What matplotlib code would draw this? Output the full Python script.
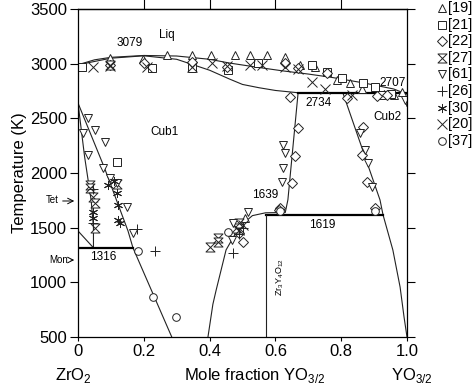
import numpy as np
import matplotlib
matplotlib.use("Agg")
import matplotlib.pyplot as plt
from matplotlib.path import Path
from matplotlib.lines import Line2D

plt.rcParams['font.family'] = ['Liberation Sans', 'DejaVu Sans']
plt.rcParams['mathtext.fontset'] = 'custom'
plt.rcParams['mathtext.rm'] = 'Liberation Sans'

# phase boundaries: x = mole fraction YO3/2, T in K
liq_x = [0.0, 0.05, 0.1, 0.2, 0.3, 0.4, 0.46, 0.55, 0.62, 0.7, 0.77, 0.87, 0.96, 1.0]
liq_t = [2990, 3035, 3058, 3075, 3070, 3040, 3006, 2965, 2935, 2905, 2875, 2823, 2768, 2720]

sol_x = [0.0, 0.1, 0.2, 0.3, 0.4, 0.46, 0.5, 0.55, 0.6, 0.669]
sol_t = [2990, 3050, 3072, 3040, 2940, 2860, 2810, 2780, 2755, 2734]

cub1_x = [0.395, 0.41, 0.42, 0.45, 0.49, 0.53, 0.57, 0.63, 0.638, 0.669]
cub1_t = [500, 800, 930, 1296, 1506, 1610, 1636, 1639, 1755, 2734]

cub2_x = [0.805, 0.918, 0.927, 0.957, 0.979, 0.991, 1.0]
cub2_t = [2734, 1753, 1619, 1296, 957, 683, 500]

tet_x = [0.0, 0.08, 0.152, 0.167, 0.285]
tet_t = [2640, 2050, 1470, 1316, 500]

tet2_x = [0.0, 0.02, 0.04, 0.047, 0.047]
tet2_t = [2640, 2150, 1750, 1500, 1316]

mon_x = [0.0, 0.047]
mon_t = [1470, 1316]

hex_x = [0.985, 1.0]
hex_t = [2734, 2610]

# invariant lines
inv_t = [1316, 1619, 2734]
inv_x0 = [0.0, 0.571, 0.669]
inv_x1 = [0.167, 0.928, 1.0]
comp_x = 0.571  # Zr3Y4O12

# experimental data
r19_x = [0.097, 0.198, 0.27, 0.347, 0.404, 0.477, 0.523, 0.574, 0.63, 0.675, 0.72, 0.787, 0.827, 0.862, 0.93, 0.96, 0.985, 0.508]
r19_t = [3050, 3040, 3080, 3080, 3080, 3080, 3080, 3080, 3060, 2988, 2970, 2850, 2823, 2770, 2720, 2715, 2740, 1588]
r21_x = [0.012, 0.225, 0.347, 0.456, 0.547, 0.711, 0.757, 0.802, 0.866, 0.903, 0.92, 0.95, 0.118]
r21_t = [2970, 2960, 2960, 2942, 3006, 2988, 2924, 2869, 2823, 2786, 2715, 2720, 2100]
r22_x = [0.097, 0.2, 0.347, 0.453, 0.63, 0.669, 0.757, 0.644, 0.818, 0.669, 0.66, 0.65, 0.614, 0.866, 0.862, 0.878, 0.903, 0.5, 0.49, 0.61, 0.91, 0.94]
r22_t = [2990, 3010, 3015, 2970, 3006, 2960, 2915, 2695, 2686, 2412, 2160, 1912, 1680, 2421, 2165, 1918, 1680, 1369, 1450, 1660, 2700, 2710]
r27_x = [0.097, 0.036, 0.036, 0.045, 0.052, 0.052, 0.118, 0.401, 0.426, 0.426, 0.48, 0.49]
r27_t = [2985, 1890, 1860, 1780, 1726, 1497, 1900, 1324, 1405, 1370, 1500, 1540]
r61_x = [0.03, 0.052, 0.015, 0.082, 0.03, 0.076, 0.097, 0.118, 0.149, 0.167, 0.623, 0.63, 0.623, 0.62, 0.857, 0.872, 0.881, 0.894, 0.468, 0.471, 0.517, 0.994]
r61_t = [2500, 2393, 2366, 2283, 2165, 2046, 1955, 1910, 1689, 1451, 2256, 2183, 2046, 1918, 2366, 2211, 2092, 1872, 1387, 1543, 1643, 2668]
r26_x = [0.045, 0.045, 0.18, 0.234, 0.471, 0.49, 0.5]
r26_t = [1850, 1540, 1490, 1287, 1268, 1440, 1500]
r30_x = [0.091, 0.118, 0.122, 0.122, 0.128, 0.045, 0.045, 0.11]
r30_t = [1890, 1817, 1707, 1570, 1543, 1588, 1640, 1930]
r20_x = [0.045, 0.097, 0.21, 0.347, 0.407, 0.453, 0.523, 0.56, 0.63, 0.669, 0.711, 0.75, 0.833, 0.49, 0.5]
r20_t = [2970, 2975, 2970, 2970, 3006, 2975, 2988, 2988, 2970, 2951, 2832, 2768, 2713, 1480, 1520]
r37_x = [0.182, 0.228, 0.298, 0.456, 0.614, 0.903]
r37_t = [1287, 866, 683, 1460, 1650, 1650]

ref_labels = ['[19]', '[21]', '[22]', '[27]', '[61]', '[26]', '[30]', '[20]', '[37]']

hourglass = Path([(-1, 1), (1, 1), (-1, -1), (1, -1), (-1, 1)],
                 [Path.MOVETO, Path.LINETO, Path.LINETO, Path.LINETO, Path.CLOSEPOLY])
markers = ['^', 's', 'D', hourglass, 'v', '+', (6, 2, 0), 'x', 'o']
sizes = [6, 5.5, 5, 6.5, 6, 6.5, 6.5, 7, 5.5]
series = [(r19_x, r19_t), (r21_x, r21_t), (r22_x, r22_t), (r27_x, r27_t), (r61_x, r61_t),
          (r26_x, r26_t), (r30_x, r30_t), (r20_x, r20_t), (r37_x, r37_t)]

fig = plt.figure(figsize=(4.74, 3.88), dpi=100)
ax = fig.add_axes([78 / 474, 1 - 337 / 388, 329 / 474, 328 / 388])

lw = 0.8
for xs, ts in [(liq_x, liq_t), (sol_x, sol_t), (cub1_x, cub1_t), (cub2_x, cub2_t),
               (tet_x, tet_t), (tet2_x, tet2_t), (mon_x, mon_t), (hex_x, hex_t)]:
    ax.plot(xs, ts, color='#222222', lw=lw)
for t, x0, x1 in zip(inv_t, inv_x0, inv_x1):
    ax.plot([x0, x1], [t, t], color='black', lw=1.6)
ax.plot([comp_x, comp_x], [500, 1619], color='#222222', lw=lw)

for (xs, ts), m, s in zip(series, markers, sizes):
    ax.plot(xs, ts, ls='none', marker=m, ms=s, mfc='white', mec='#222222', mew=0.7)

# annotations
fs = 8.5
ax.text(0.27, 3262, 'Liq', fontsize=fs, ha='center', va='center')
ax.text(0.158, 3185, '3079', fontsize=fs, ha='center', va='center')
ax.text(0.264, 2375, 'Cub1', fontsize=fs, ha='center', va='center')
ax.text(0.957, 2823, '2707', fontsize=fs, ha='center', va='center')
ax.text(0.73, 2640, '2734', fontsize=fs, ha='center', va='center')
ax.text(0.94, 2510, 'Cub2', fontsize=fs, ha='center', va='center')
ax.text(0.568, 1800, '1639', fontsize=fs, ha='center', va='center')
ax.text(0.742, 1525, '1619', fontsize=fs, ha='center', va='center')
ax.text(0.077, 1232, '1316', fontsize=fs, ha='center', va='center')
ax.text(0.614, 1050, 'Zr$_3$Y$_4$O$_{12}$', fontsize=6.5, ha='center', va='center', rotation=90)

ax.annotate('', xy=(-0.003, 1744), xytext=(-0.055, 1744), annotation_clip=False,
            arrowprops=dict(arrowstyle='->', lw=0.7, color='black'))
ax.text(-0.06, 1750, 'Tet', fontsize=7, ha='right', va='center')
ax.annotate('', xy=(-0.003, 1204), xytext=(-0.03, 1204), annotation_clip=False,
            arrowprops=dict(arrowstyle='->', lw=0.7, color='black'))
ax.text(-0.03, 1204, 'Mon', fontsize=7, ha='right', va='center')

ax.set_xlim(0, 1)
ax.set_ylim(500, 3500)
ax.set_xticks([0, 0.2, 0.4, 0.6, 0.8, 1.0])
ax.set_xticklabels(['0', '0.2', '0.4', '0.6', '0.8', '1.0'])
ax.set_yticks([500, 1000, 1500, 2000, 2500, 3000, 3500])
ax.tick_params(labelsize=12, direction='out', length=6, width=0.8, right=True, pad=2)
ax.tick_params(axis='x', bottom=True, top=False, length=3)
top = ax.secondary_xaxis('top')
top.set_xticks([0.2, 0.4, 0.6, 0.8])
top.tick_params(direction='out', length=8, width=0.8, labeltop=False)
top.spines['top'].set_linewidth(0.9)
ax.set_ylabel('Temperature (K)', fontsize=12, labelpad=2)
for sp in ax.spines.values():
    sp.set_linewidth(0.9)

fig.text(73 / 474, 1 - 380 / 388, 'ZrO$_2$', fontsize=12, ha='center', va='baseline')
fig.text(255 / 474, 1 - 380 / 388, 'Mole fraction YO$_{3/2}$', fontsize=12, ha='center', va='baseline')
fig.text(412 / 474, 1 - 380 / 388, 'YO$_{3/2}$', fontsize=12, ha='center', va='baseline')

# legend, drawn by hand at the right edge
for i, (lab, m, s) in enumerate(zip(ref_labels, markers, sizes)):
    yy = 1 - (8 + i * 16.6) / 388
    fig.add_artist(Line2D([442 / 474], [yy], marker=m, ms=s, mfc='white', mec='#222222',
                          mew=0.7, ls='none', transform=fig.transFigure))
    fig.text(448 / 474, yy, lab, fontsize=10.5, ha='left', va='center')

fig.savefig('out.png', dpi=100)
